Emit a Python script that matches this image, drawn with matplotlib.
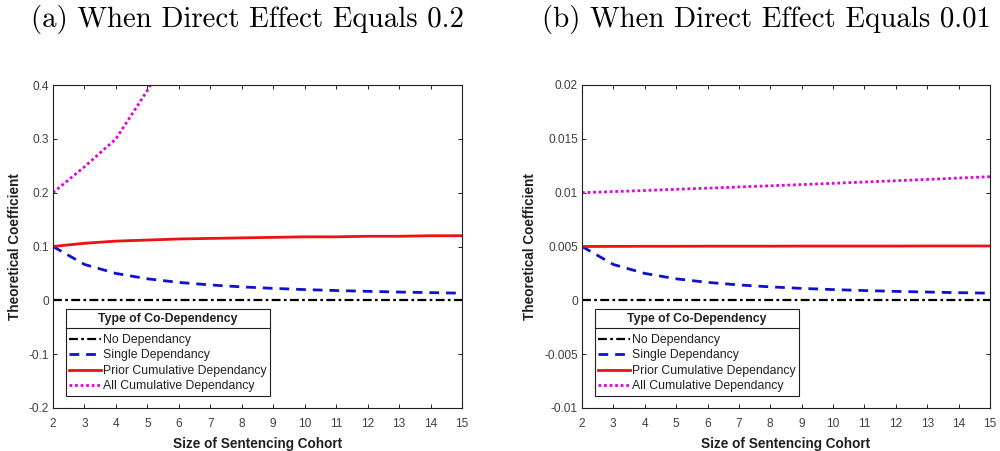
import matplotlib
matplotlib.use("Agg")
import matplotlib.pyplot as plt
from matplotlib.lines import Line2D

plt.rcParams['font.family'] = ['Liberation Sans', 'DejaVu Sans']
plt.rcParams['axes.unicode_minus'] = False

x = [2, 3, 4, 5, 6, 7, 8, 9, 10, 11, 12, 13, 14, 15]

# Panel (a): direct effect 0.2
a_none = [0, 0, 0, 0, 0, 0, 0, 0, 0, 0, 0, 0, 0, 0]
a_single = [0.100, 0.0667, 0.050, 0.040, 0.0333, 0.0286, 0.025, 0.0222, 0.020, 0.0182, 0.0167, 0.0154, 0.0143, 0.0133]
a_prior = [0.100, 0.106, 0.110, 0.112, 0.114, 0.115, 0.116, 0.117, 0.118, 0.118, 0.119, 0.119, 0.120, 0.120]
a_all = [0.200, 0.248, 0.300, 0.390, 0.490, 0.610, 0.760, 0.950, 1.190, 1.480, 1.850, 2.320, 2.900, 3.620]

# Panel (b): direct effect 0.01
b_none = [0, 0, 0, 0, 0, 0, 0, 0, 0, 0, 0, 0, 0, 0]
b_single = [0.0050, 0.00333, 0.0025, 0.0020, 0.00167, 0.00143, 0.00125, 0.00111, 0.0010, 0.00091, 0.00083, 0.00077, 0.00071, 0.00067]
b_prior = [0.00500, 0.00501, 0.00502, 0.00502, 0.00503, 0.00503, 0.00503, 0.00504, 0.00504, 0.00504, 0.00504, 0.00505, 0.00505, 0.00505]
b_all = [0.01000, 0.01010, 0.01020, 0.01031, 0.01042, 0.01053, 0.01064, 0.01075, 0.01087, 0.01099, 0.01111, 0.01123, 0.01136, 0.01148]

series_names = ["No Dependancy", "Single Dependancy", "Prior Cumulative Dependancy", "All Cumulative Dependancy"]
legend_title = "Type of Co-Dependency"
titles = ["(a) When Direct Effect Equals 0.2", "(b) When Direct Effect Equals 0.01"]
xlabel = "Size of Sentencing Cohort"
ylabel = "Theoretical Coefficient"
x_ticks = list(range(2, 16))
a_yticks = [-0.2, -0.1, 0, 0.1, 0.2, 0.3, 0.4]
a_ylabels = ["-0.2", "-0.1", "0", "0.1", "0.2", "0.3", "0.4"]
b_yticks = [-0.01, -0.005, 0, 0.005, 0.01, 0.015, 0.02]
b_ylabels = ["-0.01", "-0.005", "0", "0.005", "0.01", "0.015", "0.02"]

fig = plt.figure(figsize=(10, 4.51), dpi=100)
W, H = 1000, 451
axA = fig.add_axes([53 / W, (H - 408) / H, 409 / W, 323 / H])
axB = fig.add_axes([582 / W, (H - 408) / H, 408 / W, 323 / H])

tick_col = '#404040'

def draw(ax, none, single, prior, allc, yt, yl):
    l1, = ax.plot(x, none, color='black', linestyle=(0, (4, 1.5, 1.2, 1.5)), lw=1.6)
    l2, = ax.plot(x, single, color='#1010d0', linestyle=(0, (3.5, 2.5)), lw=2.0)
    l3, = ax.plot(x, prior, color='#ee1111', linestyle='-', lw=2.0)
    l4, = ax.plot(x, allc, color='#e000e0', linestyle=(0, (1, 1)), lw=2.0)
    ax.set_xlim(2, 15)
    ax.set_ylim(yt[0], yt[-1])
    ax.set_xticks(x_ticks)
    ax.set_xticklabels([str(t) for t in x_ticks])
    ax.set_yticks(yt)
    ax.set_yticklabels(yl)
    ax.tick_params(direction='in', top=True, right=True, length=3, width=0.7,
                   labelsize=8.6, labelcolor=tick_col, color='#202020')
    ax.tick_params(axis='x', pad=7)
    ax.tick_params(axis='y', pad=3)
    for s in ax.spines.values():
        s.set_linewidth(0.8)
        s.set_color('#202020')
    ax.set_xlabel(xlabel, fontsize=9.8, fontweight='bold', color='#202020', labelpad=5)
    ax.set_ylabel(ylabel, fontsize=9.8, fontweight='bold', color='#202020', labelpad=5)
    leg = ax.legend([l1, l2, l3, l4], series_names, title=legend_title,
                    loc='lower left', bbox_to_anchor=(0.031, 0.037),
                    fontsize=8.85, title_fontproperties={'weight': 'bold', 'size': 8.85},
                    frameon=True, fancybox=False, edgecolor='#202020', framealpha=1,
                    borderpad=0.3, labelspacing=0.28, handlelength=2.6,
                    handletextpad=0.1, borderaxespad=0)
    leg._legend_box.sep = 6.5
    leg.get_frame().set_linewidth(0.8)
    leg.get_title().set_color('#202020')
    for t in leg.get_texts():
        t.set_color('#202020')
    return leg

legA = draw(axA, a_none, a_single, a_prior, a_all, a_yticks, a_ylabels)
legB = draw(axB, b_none, b_single, b_prior, b_all, b_yticks, b_ylabels)

fig.text(31 / W, 1 - 20 / H, titles[0], fontsize=20.8, family='cmr10', va='center', ha='left')
fig.text(542 / W, 1 - 20 / H, titles[1], fontsize=20.8, family='cmr10', va='center', ha='left')

fig.canvas.draw()
for leg in (legA, legB):
    fb = leg.get_frame().get_window_extent()
    tb = leg.get_title().get_window_extent()
    ysep = tb.y0 - 3
    fig.add_artist(Line2D([fb.x0, fb.x1], [ysep, ysep], transform=None,
                          color='#202020', lw=0.8))

fig.savefig('out.png', dpi=100)
